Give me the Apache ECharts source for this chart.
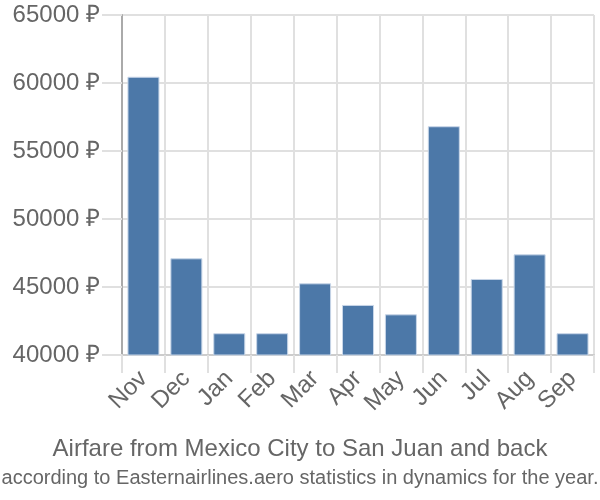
<!DOCTYPE html>
<html><head><meta charset="utf-8">
<script src="https://cdn.jsdelivr.net/npm/echarts@6/dist/echarts.min.js"></script>
<style>html,body{margin:0;padding:0;background:#fff}#c{width:600px;height:500px}</style>
</head><body><div id="c"></div>
<script>
var categories = ["Nov","Dec","Jan","Feb","Mar","Apr","May","Jun","Jul","Aug","Sep"];
var prices = [60460, 47110, 41600, 41600, 45270, 43680, 42990, 56820, 45590, 47400, 41600];
var yTicks = [40000, 45000, 50000, 55000, 60000, 65000];
var titleText = "Airfare from Mexico City to San Juan and back";
var subtitleText = "according to Easternairlines.aero statistics in dynamics for the year.";

var chart = echarts.init(document.getElementById('c'), null, {renderer:'canvas'});
var font = "'Liberation Sans', Arial, sans-serif";
chart.setOption({
  animation:false,
  grid:{left:122, right:6, top:15, bottom:145, containLabel:false},
  title:[
    {text:titleText, left:'center', top:432, textStyle:{fontFamily:font, fontSize:24, fontWeight:'normal', color:'#666'}},
    {text:subtitleText, left:'center', top:463, textStyle:{fontFamily:"'Liberation Sans Narrow', 'Liberation Sans', sans-serif", fontSize:20, fontWeight:'normal', color:'#666'}}
  ],
  xAxis:{type:'category', data:categories,
    axisLine:{lineStyle:{color:'#ccc', width:2}},
    axisTick:{show:true, length:18, lineStyle:{color:'#e0e0e0', width:2}},
    splitLine:{show:true, lineStyle:{color:'#e0e0e0', width:2}},
    axisLabel:{rotate:45, fontFamily:font, fontSize:24, color:'#666', margin:20, interval:0}
  },
  yAxis:{type:'value', min:yTicks[0], max:yTicks[yTicks.length-1], interval:5000,
    axisLine:{show:true, lineStyle:{color:'#aaa', width:2}},
    axisTick:{show:true, length:20, lineStyle:{color:'#e0e0e0', width:2}},
    splitLine:{show:true, lineStyle:{color:'#e0e0e0', width:2}},
    axisLabel:{fontFamily:font, fontSize:24, color:'#666', margin:22, formatter:function(v){return v+' ₽';}}
  },
  series:[{type:'bar', data:prices, barWidth:32,
    itemStyle:{color:'#4c78a8', borderColor:'#c8d6e8', borderWidth:1}}]
});
</script></body></html>
